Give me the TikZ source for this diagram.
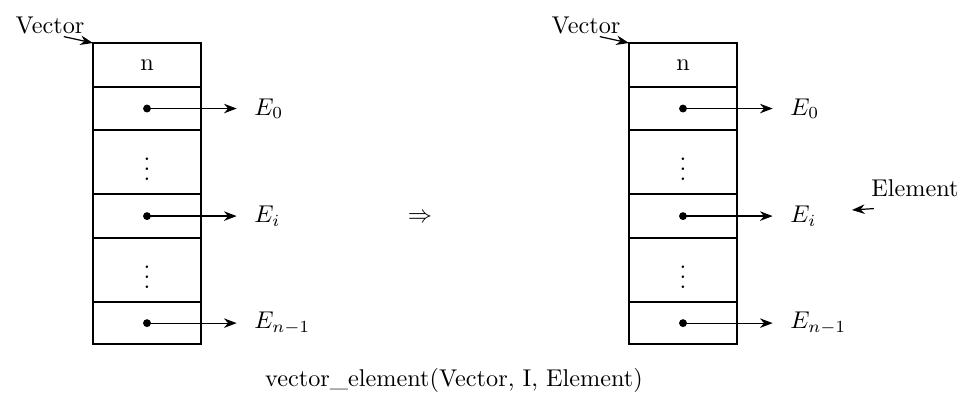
\documentclass[tikz,border=0pt]{standalone}
\usetikzlibrary{arrows.meta, positioning}

\begin{document}
\begin{tikzpicture}[x=0.0145cm, y=-0.0145cm, >=Stealth, node distance=0pt]
  \tikzset{
    cell/.style={draw, line width=0.7pt, minimum width=1.566cm,
      outer sep=0pt, inner sep=0pt},
    slot/.style={cell, minimum height=0.624cm},
    gap/.style={cell, minimum height=0.928cm},
    ptr/.style={{Circle[length=3.2pt]}->, line width=0.5pt,
      shorten <=-1.6pt},
    elem/.style={inner xsep=0.25cm, inner ysep=1pt},
  }
  \useasboundingbox (0,0) rectangle (970,416);

  % the vector before and after the call
  \foreach \s/\x in {L/147, R/683} {
    \node[cell, minimum height=0.638cm] (\s n) at (\x,65) {n};
    \node[slot, below=of \s n] (\s 0) {};
    \node[gap, below=of \s 0] (\s d1) {$\vdots$};
    \node[slot, minimum height=0.638cm, below=of \s d1] (\s i) {};
    \node[gap, below=of \s i] (\s d2) {$\vdots$};
    \node[slot, minimum height=0.609cm, below=of \s d2] (\s l) {};

    \node[elem, right=1.3cm of \s 0.center] (\s E0) {$E_0$};
    \node[elem, right=1.3cm of \s i.center] (\s Ei) {$E_i$};
    \node[elem, right=1.3cm of \s l.center] (\s El) {$E_{n-1}$};
    \draw[ptr] (\s 0.center) -- (\s E0.west);
    \draw[ptr] (\s i.center) -- (\s Ei.west);
    \draw[ptr] (\s l.center) -- (\s El.west);

    \node (\s vec) at (\x-97,25) {Vector};
    \draw[->, line width=0.5pt]
      ([xshift=0.2cm, yshift=0.08cm]\s vec.south) -- (\s n.north west);
  }

  \node (impl) at (420,218) {$\Rightarrow$};

  % result parameter
  \node (elem) at (915,188) {Element};
  \coordinate (elemtip) at (852,210);
  \draw[->, line width=0.5pt]
    ([xshift=0.16cm, yshift=-0.05cm]elem.south west) -- (elemtip);

  \node (call) at (454,380) {vector\_element(Vector, I, Element)};
\end{tikzpicture}
\end{document}
